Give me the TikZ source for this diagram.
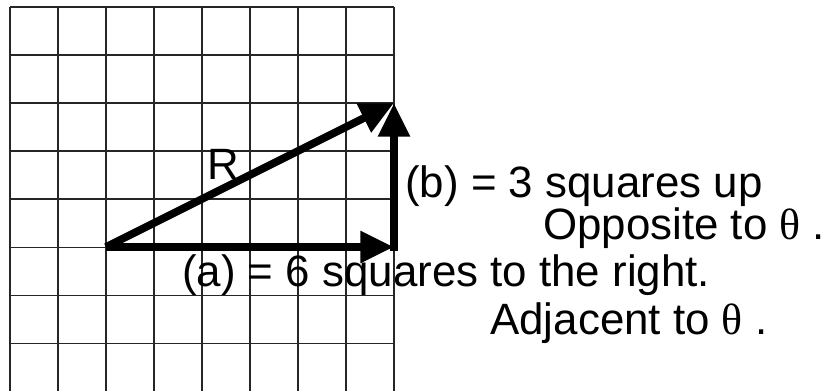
\documentclass[tikz,border=0pt]{standalone}
\usepackage{fontspec}
\setmainfont{Liberation Sans}
\newfontfamily\thetafont{Liberation Serif}
\usetikzlibrary{arrows.meta,positioning}

\begin{document}
\begin{tikzpicture}
  [
  gridline/.style={draw=black!85, line width=0.6pt},
  vecarrow/.style={draw, line width=4.6pt, -{Triangle[length=20pt, width=18pt]}},
  label/.style={inner sep=0pt, anchor=base west, font=\fontsize{26}{30}\selectfont}
  ]
  \useasboundingbox (-0.2083,0) rectangle (17.2083,8.146);
  \foreach \x in {0,...,8} \draw[gridline] (\x,0) -- (\x,8);
  \foreach \y in {1,...,8} \draw[gridline] (0,\y) -- (8,\y);
  \coordinate (tail) at (2,3);
  \coordinate (corner) at (8,3);
  \coordinate (head) at (8,6);
  \draw[vecarrow] (tail) -- (corner);
  \draw[vecarrow] ([yshift=-2.3pt]corner) -- (head);
  \draw[vecarrow] (tail) -- (head);
  \node[label] (rlabel) at (4.1,4.4) {R};
  \node[label] (blabel) at (8.23,4.04) {(b) = 3 squares up};
  \node[label] (opp) at (11.1,3.15) {Opposite to {\thetafont θ} .};
  \node[label] (alabel) at (3.58,2.17) {(a) = 6 squares to the right.};
  \node[label] (adj) at (10.0,1.17) {Adjacent to {\thetafont θ} .};
\end{tikzpicture}
\end{document}
